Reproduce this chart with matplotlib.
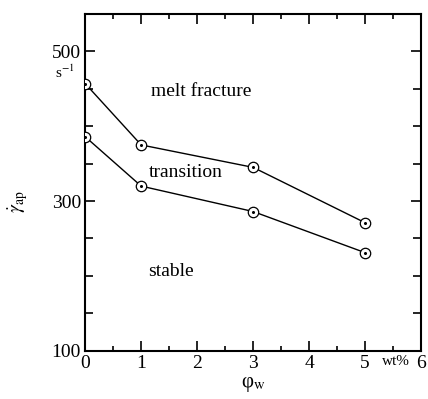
import matplotlib.pyplot as plt
from matplotlib.ticker import FixedLocator, MultipleLocator

plt.rcParams['font.family'] = ['Liberation Serif', 'DejaVu Serif']
plt.rcParams['mathtext.fontset'] = 'stix'

# weight fraction of wax, wt%
phi_w = [0, 1, 3, 5]
# critical apparent shear rates, s^-1
upper_rate = [457, 375, 345, 271]   # onset of melt fracture
lower_rate = [386, 320, 286, 231]   # onset of transition

regions = ['melt fracture', 'transition', 'stable']
region_pos = [(1.18, 447), (1.13, 338), (1.13, 206)]

fig = plt.figure(figsize=(4.28, 3.99), dpi=100)
ax = fig.add_axes([0.199, 0.121, 0.785, 0.844])

for ys in (upper_rate, lower_rate):
    ax.plot(phi_w, ys, color='black', lw=1.0, marker='o', ms=7.5,
            mfc='white', mec='black', mew=0.9, zorder=3)
    ax.plot(phi_w, ys, ls='none', marker='o', ms=1.2, color='black', zorder=4)

for name, (x, y) in zip(regions, region_pos):
    ax.text(x, y, name, fontsize=14, ha='left', va='center')

ax.set_xlim(0, 6)
ax.set_ylim(100, 550)
ax.xaxis.set_major_locator(MultipleLocator(1))
ax.xaxis.set_minor_locator(MultipleLocator(0.5))
ax.yaxis.set_major_locator(FixedLocator([100, 300, 500]))
ax.yaxis.set_minor_locator(MultipleLocator(50))
ax.tick_params(which='both', direction='in', top=True, right=True, labelsize=14, width=1.2)
ax.tick_params(axis='x', which='major', length=7, pad=3)
ax.tick_params(axis='x', which='minor', length=3.5)
ax.tick_params(axis='y', which='major', length=7, pad=3)
ax.tick_params(axis='y', which='minor', length=5.5)
for sp in ax.spines.values():
    sp.set_linewidth(1.5)

ax.set_xlabel('φ$_{\\rm w}$', fontsize=15, labelpad=2)
ax.set_ylabel(r'$\dot{\gamma}_{\rm ap}$', fontsize=14)
ax.yaxis.set_label_coords(-0.165, 0.444)

# units
ax.text(-0.36, 472, r's$^{-1}$', fontsize=11, ha='center', va='center', clip_on=False)
ax.text(5.55, 85, 'wt%', fontsize=11, ha='center', va='center', clip_on=False)

fig.savefig('out.png', dpi=100)
